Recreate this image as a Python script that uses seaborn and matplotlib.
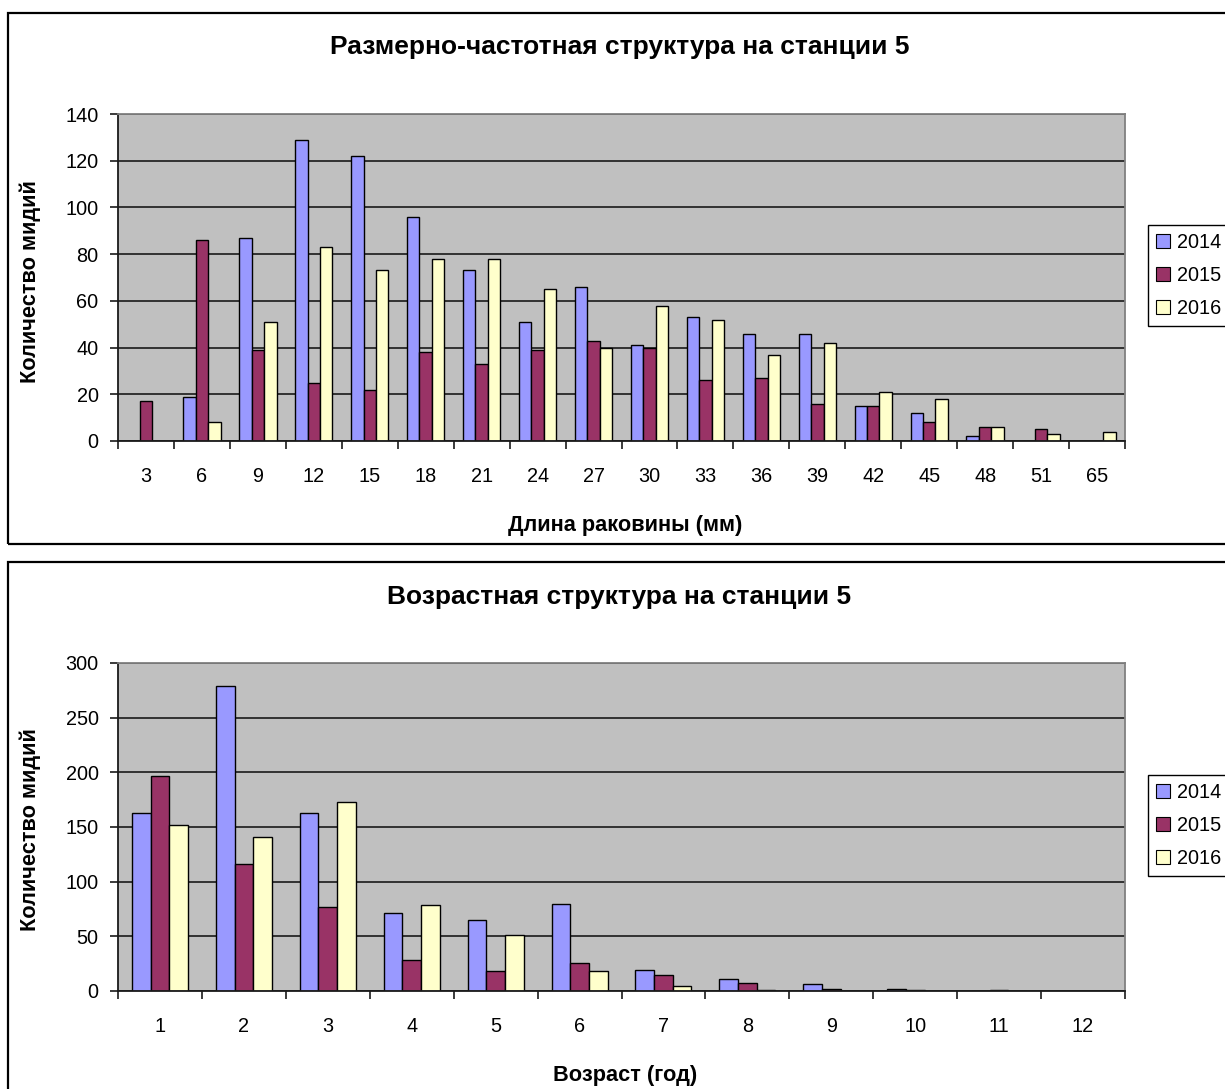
import matplotlib
matplotlib.use("Agg")
import matplotlib.pyplot as plt
from matplotlib.patches import Rectangle, Patch
import numpy as np
import pandas as pd
import seaborn as sns

# Shell length classes (mm) and counts per year
length_classes = ["3", "6", "9", "12", "15", "18", "21", "24", "27", "30",
                  "33", "36", "39", "42", "45", "48", "51", "65"]
length_2014 = [0, 19, 87, 129, 122, 96, 73, 51, 66, 41, 53, 46, 46, 15, 12, 2, 0, 0]
length_2015 = [17, 86, 39, 25, 22, 38, 33, 39, 43, 40, 26, 27, 16, 15, 8, 6, 5, 0]
length_2016 = [0, 8, 51, 83, 73, 78, 78, 65, 40, 58, 52, 37, 42, 21, 18, 6, 3, 4]

# Age classes (years) and counts per year
age_classes = ["1", "2", "3", "4", "5", "6", "7", "8", "9", "10", "11", "12"]
age_2014 = [163, 279, 163, 71, 65, 80, 19, 11, 6, 2, 0, 0]
age_2015 = [197, 116, 77, 28, 18, 26, 15, 7, 2, 1, 1, 0]
age_2016 = [152, 141, 173, 79, 51, 18, 5, 1, 0, 0, 0, 0]

years = ["2014", "2015", "2016"]
colors = ["#9999FF", "#993366", "#FFFFCC"]

sns.set_theme(style="white")
plt.rcParams["font.family"] = ["Liberation Sans", "DejaVu Sans"]
plt.rcParams["text.color"] = "black"

W, H = 1225, 1089
fig = plt.figure(figsize=(W / 100, H / 100), dpi=100)
fig.patch.set_facecolor("white")

TICK_FS = 14.3
LABEL_FS = 15.7
TITLE_FS = 19


def fx(px):
    return px / W


def fy(py):
    return 1 - py / H


def long_frame(cats, series):
    rows = []
    for yr, vals in zip(years, series):
        for c, v in zip(cats, vals):
            rows.append({"cat": c, "year": yr, "count": v})
    return pd.DataFrame(rows)


def draw_panel(ax, cats, series, ymax, ystep):
    df = long_frame(cats, series)
    sns.barplot(data=df, x="cat", y="count", hue="year", order=cats,
                hue_order=years, palette=colors, width=0.667, gap=0,
                edgecolor="black", linewidth=1.0, saturation=1,
                legend=False, ax=ax, zorder=3)
    ax.set_facecolor("#C0C0C0")
    n = len(cats)
    ax.set_xlim(-0.5, n - 0.5)
    ax.set_ylim(0, ymax)
    ax.set_yticks(np.arange(0, ymax + 1, ystep))
    ax.yaxis.grid(True, color="#1a1a1a", linewidth=1.2, zorder=1)
    ax.xaxis.grid(False)
    ax.set_axisbelow(True)
    ax.set_xlabel("")
    ax.set_ylabel("")
    # category labels centred, tick marks on category boundaries
    ax.set_xticks(np.arange(n))
    ax.set_xticklabels(cats)
    ax.set_xticks(np.arange(-0.5, n, 1.0), minor=True)
    ax.tick_params(axis="x", which="major", length=0, pad=19, labelsize=TICK_FS,
                   labelcolor="black")
    ax.tick_params(axis="x", which="minor", length=6, width=1.2,
                   direction="out", color="#1a1a1a", bottom=True)
    ax.tick_params(axis="y", which="major", length=6, width=1.2,
                   direction="out", color="#1a1a1a", pad=8, labelsize=TICK_FS,
                   labelcolor="black", left=True)
    for side in ("left", "bottom"):
        ax.spines[side].set_color("#1a1a1a")
        ax.spines[side].set_linewidth(1.3)
    for side in ("top", "right"):
        ax.spines[side].set_color("#808080")
        ax.spines[side].set_linewidth(1.3)
    for s in ax.spines.values():
        s.set_zorder(4)


def draw_frame(y_top, y_bottom):
    rect = Rectangle((fx(8), fy(y_bottom)), fx(1240) - fx(8),
                     fy(y_top) - fy(y_bottom), transform=fig.transFigure,
                     fill=False, edgecolor="black", linewidth=1.6, zorder=0)
    fig.patches.append(rect)


def draw_legend(y_top):
    handles = [Patch(facecolor=c, edgecolor="black", linewidth=0.8, label=y)
               for c, y in zip(colors, years)]
    leg = fig.legend(handles=handles, loc="upper left",
                     bbox_to_anchor=(fx(1148), fy(y_top)),
                     frameon=True, fontsize=TICK_FS, handlelength=0.7,
                     handleheight=0.7, handletextpad=0.35,
                     labelspacing=0.7, borderpad=0.4, borderaxespad=0,
                     labelcolor="black")
    fr = leg.get_frame()
    fr.set_edgecolor("black")
    fr.set_linewidth(1.0)
    fr.set_boxstyle("square", pad=0)
    fr.set_facecolor("white")
    fr.set_alpha(1)


# Frames around each chart
draw_frame(13, 544)
draw_frame(562, 1110)

# Size-frequency panel
ax1 = fig.add_axes([fx(118), fy(441), fx(1125) - fx(118), fy(114) - fy(441)])
draw_panel(ax1, length_classes, [length_2014, length_2015, length_2016], 140, 20)
fig.text(fx(620), fy(47), "Размерно-частотная структура на станции 5",
         ha="center", va="center", fontsize=TITLE_FS, fontweight="bold",
         color="black")
fig.text(fx(625), fy(525), "Длина раковины (мм)", ha="center", va="center",
         fontsize=LABEL_FS, fontweight="bold", color="black")
fig.text(fx(30), fy(282), "Количество мидий", ha="center", va="center",
         rotation=90, fontsize=LABEL_FS, fontweight="bold", color="black")
draw_legend(225)

# Age panel
ax2 = fig.add_axes([fx(118), fy(991), fx(1125) - fx(118), fy(663) - fy(991)])
draw_panel(ax2, age_classes, [age_2014, age_2015, age_2016], 300, 50)
fig.text(fx(619), fy(597), "Возрастная структура на станции 5",
         ha="center", va="center", fontsize=TITLE_FS, fontweight="bold",
         color="black")
fig.text(fx(625), fy(1075), "Возраст (год)", ha="center", va="center",
         fontsize=LABEL_FS, fontweight="bold", color="black")
fig.text(fx(30), fy(830), "Количество мидий", ha="center", va="center",
         rotation=90, fontsize=LABEL_FS, fontweight="bold", color="black")
draw_legend(775)

fig.savefig("out.png", dpi=100, facecolor="white")
